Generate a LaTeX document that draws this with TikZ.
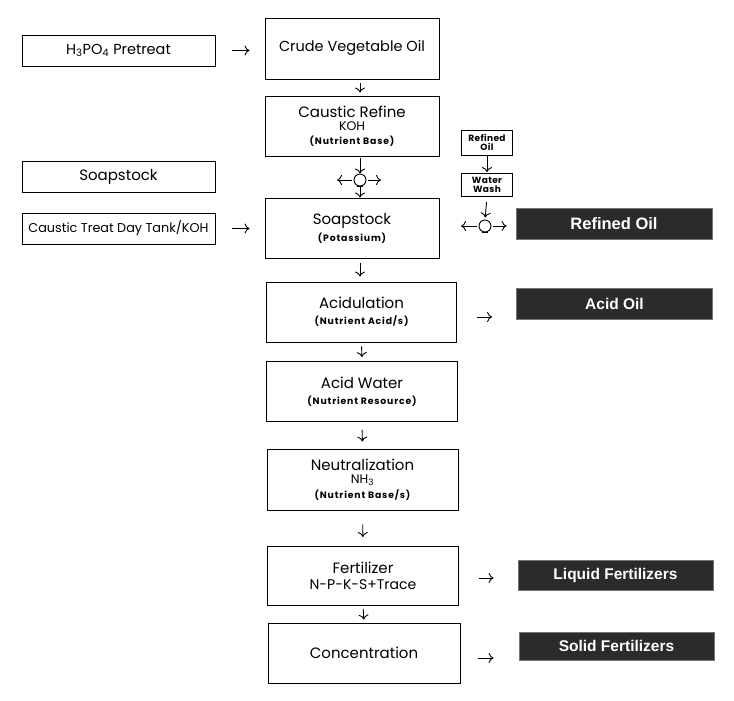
\documentclass[tikz,border=0pt]{standalone}
\usepackage{fontspec}
\setmainfont{Poppins}
\newfontfamily\heavy{Liberation Sans}
\usetikzlibrary{arrows.meta}
\tikzset{
  box/.style={draw, line width=0.9pt, inner sep=0pt, align=center, font=\fontsize{15}{17}\selectfont},
  smallbox/.style={draw, line width=0.8pt, inner sep=0pt, align=center, font=\bfseries\fontsize{9}{9.5}\selectfont\addfontfeature{LetterSpace=4}},
  dark/.style={fill=black!83, draw=black!55, line width=0.8pt, text=white, inner sep=0pt, font=\heavy\bfseries\fontsize{15.5}{16}\selectfont},
  arr/.style={-{To[length=5pt,width=10pt]}, line width=0.9pt},
  sepn/.style={circle, draw, line width=0.9pt, minimum size=12pt, inner sep=0pt},
}
\newcommand{\mysub}{\bfseries\fontsize{9.3}{10.5}\selectfont\addfontfeature{LetterSpace=9}}
\newcommand{\mymid}{\fontsize{12.5}{13}\selectfont}
\begin{document}
\begin{tikzpicture}[x=1pt,y=-1pt]
\useasboundingbox (0,0) rectangle (734,701);
% left column
\node[box, minimum width=193pt, minimum height=31pt, font=\fontsize{14.5}{16}\selectfont] (pre) at (118.5,50.5) {H\textsubscript{3}PO\textsubscript{4} Pretreat};
\node[box, minimum width=193pt, minimum height=31pt] (soapL) at (118.5,176.5) {Soapstock};
\node[box, minimum width=193pt, minimum height=31pt, font=\fontsize{12.8}{14}\selectfont] (treat) at (118.5,228.5) {Caustic Treat Day Tank/KOH};
% main column
\node[box, minimum width=174pt, minimum height=61pt, font=\fontsize{14.5}{16}\selectfont] (crude) at (352,48.5) {\raisebox{6pt}{Crude Vegetable Oil}};
\node[box, minimum width=174pt, minimum height=60pt] (caustic) at (352,126) {Caustic Refine\\[-4pt]{\mymid KOH}\\[-3pt]{\mysub (Nutrient Base)}};
\node[box, minimum width=174pt, minimum height=60pt] (soapK) at (352,228) {Soapstock\\[0pt]{\mysub (Potassium)}};
\node[box, minimum width=190pt, minimum height=60pt] (acid) at (361.5,312) {Acidulation\\[-1pt]{\mysub (Nutrient Acid/s)}};
\node[box, minimum width=191pt, minimum height=60pt] (acidwater) at (362,391.5) {Acid Water\\[-1pt]{\mysub (Nutrient Resource)}};
\node[box, minimum width=191pt, minimum height=61pt] (neut) at (362.5,479.5) {Neutralization\\[-4pt]{\mymid NH\textsubscript{3}}\\[-2pt]{\mysub (Nutrient Base/s)}};
\node[box, minimum width=191pt, minimum height=59pt] (fert) at (363,576) {Fertilizer\\[-1pt]{\fontsize{14}{16}\selectfont N-P-K-S+Trace}};
\node[box, minimum width=192pt, minimum height=60pt] (conc) at (364,653) {Concentration};
% refined oil branch
\node[smallbox, minimum width=51pt, minimum height=25pt] (roil) at (487,142.5) {Refined\\Oil};
\node[smallbox, minimum width=51pt, minimum height=23pt] (wash) at (487,185) {Water\\Wash};
% separators
\node[sepn] (s1) at (360,180) {};
\draw[line width=0.9pt] ([xshift=-3pt]s1.south) -- ([xshift=3pt]s1.south);
\node[sepn] (s2) at (485,226) {};
\draw[line width=0.9pt] ([xshift=-3pt]s2.south) -- ([xshift=3pt]s2.south);
\coordinate (s1l) at (337,180);
\coordinate (s1r) at (381,180);
\coordinate (s2l) at (461,226);
% dark output boxes
\node[dark, minimum width=196pt, minimum height=31pt, font=\heavy\bfseries\fontsize{16.5}{17}\selectfont] (refined) at (614,224) {Refined Oil};
\node[dark, minimum width=196pt, minimum height=31pt] (acidoil) at (614.5,304) {Acid Oil};
\node[dark, minimum width=195pt, minimum height=30pt] (liquid) at (615.5,575) {Liquid Fertilizers};
\node[dark, minimum width=195pt, minimum height=28pt] (solid) at (616.5,646) {Solid Fertilizers};
% connectors
\draw[arr, shorten <=17pt, shorten >=15pt] (pre.east) -- (pre.east -| crude.west);
\draw[arr, shorten <=17pt, shorten >=15pt] (treat.east) -- (treat.east -| soapK.west);
\draw[arr, shorten <=4pt, shorten >=3pt] ([xshift=8pt]crude.south) -- ([xshift=8pt]caustic.north);
\draw[arr, shorten <=2pt, shorten >=0pt] ([xshift=8pt]caustic.south) -- (s1.north);
\draw[arr, shorten >=0pt] (s1.south) -- ([xshift=8pt]soapK.north);
\draw[arr, shorten <=2pt] (s1.west) -- (s1l);
\draw[arr, shorten <=2pt] (s1.east) -- (s1r);
\draw[arr, shorten <=1pt, shorten >=1pt] (roil.south) -- (wash.north);
\draw[arr, shorten <=5pt, shorten >=2pt] (wash.south) -- (s2.north);
\draw[arr, shorten <=2pt] (s2.west) -- (s2l);
\draw[arr, shorten <=2pt, shorten >=9pt] (s2.east) -- (s2.east -| refined.west);
\draw[arr, shorten <=5pt, shorten >=5pt] ([xshift=8pt]soapK.south) -- ([xshift=8pt]soapK.south |- acid.north);
\draw[arr, shorten <=4pt, shorten >=4pt] (acid.south) -- (acidwater.north);
\draw[arr, shorten <=8pt, shorten >=7pt] (acidwater.south) -- (neut.north);
\draw[arr, shorten <=14pt, shorten >=9pt] (neut.south) -- (fert.north);
\draw[arr, shorten <=3pt, shorten >=3pt] (fert.south) -- (conc.north);
\draw[arr, shorten <=20pt, shorten >=24pt] ([yshift=-5pt]acid.east) -- ([yshift=-5pt]acid.east -| acidoil.west);
\draw[arr, shorten <=20pt, shorten >=24pt] ([yshift=-2pt]fert.east) -- ([yshift=-2pt]fert.east -| liquid.west);
\draw[arr, shorten <=18pt, shorten >=25pt] ([yshift=-5pt]conc.east) -- ([yshift=-5pt]conc.east -| solid.west);
\end{tikzpicture}
\end{document}
